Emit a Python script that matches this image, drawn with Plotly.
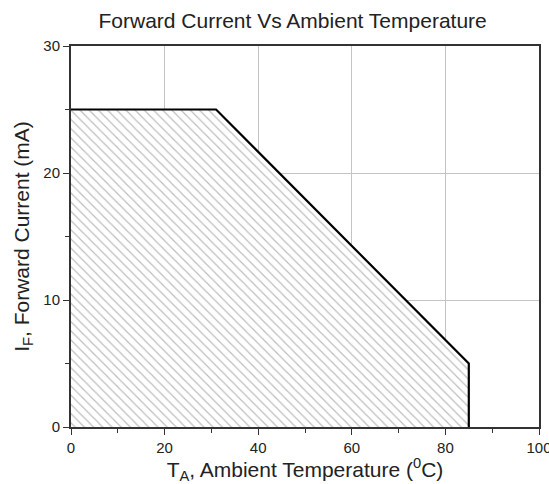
import plotly.graph_objects as go

temp = [0, 31, 85, 85]
current = [25, 25, 5, 0]

fill_x = [0] + temp + [0]
fill_y = [0] + current + [0]

fig = go.Figure()
fig.add_trace(go.Scatter(
    x=fill_x, y=fill_y, mode="none", fill="toself",
    fillcolor="white",
    fillpattern=dict(shape="\\", fgcolor="#7a7a7a", bgcolor="white", size=6.5, solidity=0.18),
    hoverinfo="skip", showlegend=False))
fig.add_trace(go.Scatter(
    x=temp, y=current, mode="lines",
    line=dict(color="black", width=2.2), showlegend=False))

font = dict(family="Liberation Sans, Arial, sans-serif", color="#222")
fig.update_layout(
    width=549, height=484,
    margin=dict(l=71, r=10, t=46, b=57, autoexpand=False),
    paper_bgcolor="white", plot_bgcolor="white",
    font=dict(size=12, **font),
    title=dict(text="Forward Current Vs Ambient Temperature", x=0.533, xanchor="center",
               y=0.958, yanchor="middle", font=dict(size=21, **font)),
    xaxis=dict(range=[0, 100], tickvals=[0, 20, 40, 60, 80, 100], showgrid=True,
               gridcolor="#c4c4c4", gridwidth=1, zeroline=False,
               showline=True, linecolor="#333", linewidth=2, mirror=True,
               ticks="outside", ticklen=6, tickcolor="#333",
               ticklabeloverflow="allow", automargin=False,
               minor=dict(tickvals=[10, 30, 50, 70, 90], ticks="outside", ticklen=4, tickcolor="#333", showgrid=False),
               tickfont=dict(size=15, **font),
               title=dict(text="T<sub>A</sub>, Ambient Temperature (<sup>0</sup>C)", font=dict(size=21, **font), standoff=4)),
    yaxis=dict(range=[0, 30], tickvals=[0, 10, 20, 30], showgrid=True,
               gridcolor="#c4c4c4", gridwidth=1, zeroline=False,
               showline=True, linecolor="#333", linewidth=2, mirror=True,
               ticks="outside", ticklen=6, tickcolor="#333", automargin=False,
               minor=dict(tickvals=[5, 15, 25], ticks="outside", ticklen=4, tickcolor="#333", showgrid=False),
               tickfont=dict(size=15, **font),
               title=dict(text="I<sub>F</sub>, Forward Current (mA)", font=dict(size=21, **font), standoff=8)),
)
fig.write_html("out.html")
